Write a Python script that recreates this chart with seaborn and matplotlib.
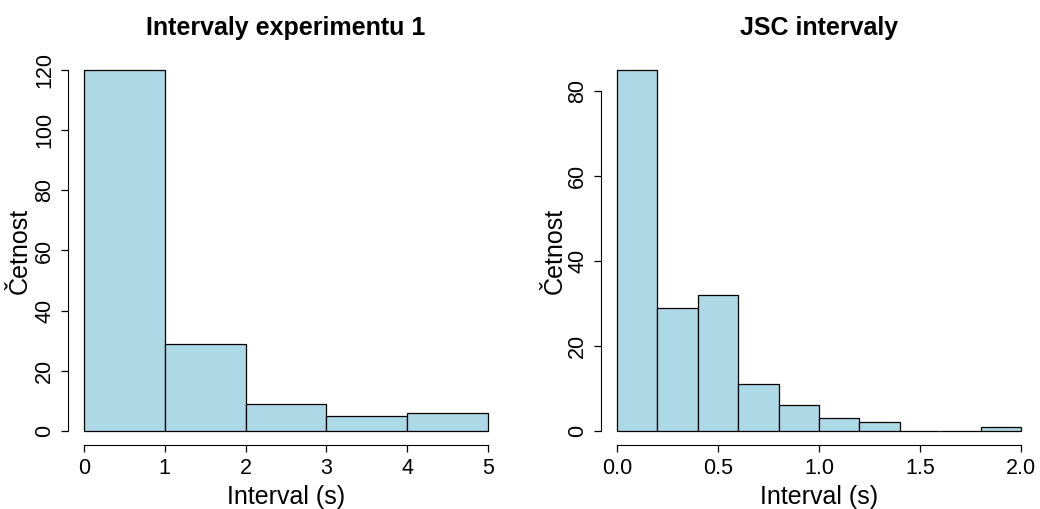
import numpy as np
import pandas as pd
import matplotlib.pyplot as plt
import matplotlib as mpl
import seaborn as sns
from matplotlib.ticker import FormatStrFormatter

# histogram bins and counts
exp_edges = [0, 1, 2, 3, 4, 5]
exp_counts = [120, 29, 9, 5, 6]

jsc_edges = [0.0, 0.2, 0.4, 0.6, 0.8, 1.0, 1.2, 1.4, 1.6, 1.8, 2.0]
jsc_counts = [85, 29, 32, 11, 6, 3, 2, 0, 0, 1]

exp_yticks = [0, 20, 40, 60, 80, 100, 120]
jsc_yticks = [0, 20, 40, 60, 80]
exp_xticks = [0, 1, 2, 3, 4, 5]
jsc_xticks = [0.0, 0.5, 1.0, 1.5, 2.0]

sns.set_style('ticks')
mpl.rcParams['font.family'] = ['Liberation Sans', 'DejaVu Sans']
mpl.rcParams.update({'xtick.labelsize': 15.5, 'ytick.labelsize': 15.5,
                     'axes.labelsize': 18, 'axes.titlesize': 18,
                     'text.color': 'black', 'axes.labelcolor': 'black',
                     'xtick.color': 'black', 'ytick.color': 'black',
                     'axes.edgecolor': 'black'})

fig = plt.figure(figsize=(10.4, 5.09), dpi=100)
ax1 = fig.add_axes([0.0652, 0.125, 0.4196, 0.7658])
ax2 = fig.add_axes([0.5777, 0.125, 0.4196, 0.7658])


def draw(ax, edges, counts, xticks, yticks, title, ylab_x, fmt=None):
    edges = [float(e) for e in edges]
    df = pd.DataFrame({'mid': [(a + b) / 2 for a, b in zip(edges[:-1], edges[1:])],
                       'n': counts})
    sns.histplot(data=df, x='mid', weights='n', bins=edges, ax=ax,
                 color='lightblue', edgecolor='black', linewidth=0.9, alpha=1)
    lo, hi = edges[0], edges[-1]
    pad = 0.04 * (hi - lo)
    ax.set_xlim(lo - pad, hi + pad)
    ymax = max(counts)
    ax.set_ylim(-0.04 * ymax, ymax * 1.04)
    ax.set_xticks(xticks)
    ax.set_yticks(yticks)
    if fmt:
        ax.xaxis.set_major_formatter(FormatStrFormatter(fmt))
    for s in ['top', 'right']:
        ax.spines[s].set_visible(False)
    ax.spines['left'].set_bounds(yticks[0], yticks[-1])
    ax.spines['bottom'].set_bounds(xticks[0], xticks[-1])
    ax.tick_params(length=5, width=0.9, pad=4, color='black')
    ax.tick_params(axis='y', labelrotation=90)
    for lbl in ax.get_yticklabels():
        lbl.set_va('center')
    ax.set_title(title, fontweight='bold', pad=15)
    ax.set_xlabel('Interval (s)')
    ax.set_ylabel('Četnost')
    ax.xaxis.label.set_va('center')
    ax.xaxis.set_label_coords(0.5, -0.132)
    ax.yaxis.label.set_va('center')
    ax.yaxis.set_label_coords(ylab_x, 0.5)


draw(ax1, exp_edges, exp_counts, exp_xticks, exp_yticks,
     'Intervaly experimentu 1', -0.1095)
draw(ax2, jsc_edges, jsc_counts, jsc_xticks, jsc_yticks,
     'JSC intervaly', -0.105, fmt='%.1f')

plt.savefig('out.png', dpi=100)
